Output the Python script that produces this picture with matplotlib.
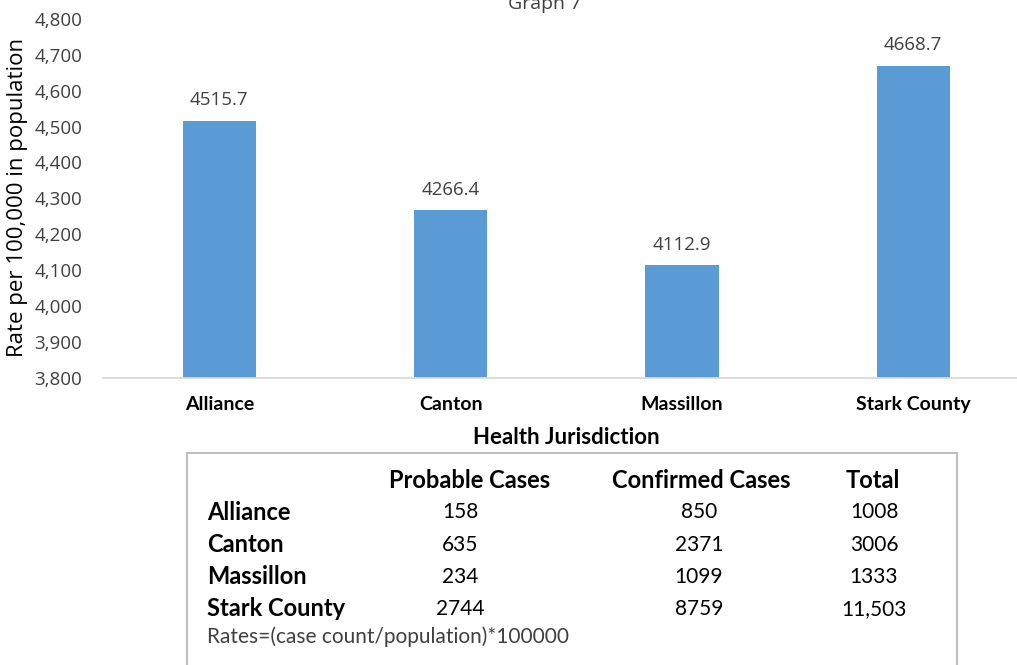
import matplotlib
matplotlib.use("Agg")
import matplotlib.pyplot as plt
from matplotlib.patches import Rectangle

# ---- data ----
jurisdictions = ["Alliance", "Canton", "Massillon", "Stark County"]
rates = [4515.7, 4266.4, 4112.9, 4668.7]
y_ticks = [3800, 3900, 4000, 4100, 4200, 4300, 4400, 4500, 4600, 4700, 4800]

table_header = ["Probable Cases", "Confirmed Cases", "Total"]
probable = ["158", "635", "234", "2744"]
confirmed = ["850", "2371", "1099", "8759"]
total = ["1008", "3006", "1333", "11,503"]
footnote = "Rates=(case count/population)*100000"

W, H = 1017, 665
fig = plt.figure(figsize=(W / 100, H / 100), dpi=100)
FONT = "Open Sans"
TXT = "#404040"

def fx(px):
    return px / W

def fy(py):
    return 1 - py / H

ax_w = 1017 - 103
ax_h = 377.7 - 19
ax = fig.add_axes([fx(103), fy(377.7), fx(ax_w), ax_h / H])
x = list(range(len(jurisdictions)))
ax.bar(x, rates, width=0.317, color="#5B9BD5", zorder=2)
ax.set_ylim(3800, 4800)
ax.set_xlim(-0.503, 3.449)
ax.set_yticks(y_ticks)
ax.set_yticklabels([f"{v:,}" for v in y_ticks], fontfamily=FONT, fontsize=13.5, color=TXT)
ax.set_xticks(x)
ax.set_xticklabels(jurisdictions, fontfamily="Lato", fontweight="bold", fontsize=14, color="black")
ax.tick_params(axis="both", length=0)
ax.tick_params(axis="x", pad=13)
ax.tick_params(axis="y", pad=15)
for s in ["top", "right", "left"]:
    ax.spines[s].set_visible(False)
ax.spines["bottom"].set_color("#D9D9D9")
ax.spines["bottom"].set_linewidth(1.3)

for xi, v in zip(x, rates):
    ax.annotate(f"{v:.1f}", (xi, v), xytext=(0, 15), textcoords="offset points",
                ha="center", va="center", fontfamily=FONT, fontsize=13.5, color=TXT)

ax.set_ylabel("Rate per 100,000 in population", fontfamily=FONT, fontsize=16, color="black")
ax.yaxis.set_label_coords((28 - 103) / ax_w, (377.7 - 197) / ax_h)

fig.text(fx(566), fy(438), "Health Jurisdiction", ha="center", va="center",
         fontfamily="Lato", fontweight="bold", fontsize=16, color="black")
fig.text(fx(545), fy(9), "Graph 7", ha="center", va="baseline",
         fontfamily=FONT, fontsize=14, color=TXT)

# table box
fig.patches.append(Rectangle((fx(187), fy(700)), fx(957 - 187), (700 - 453) / H,
                             transform=fig.transFigure, fill=False,
                             edgecolor="#BFBFBF", linewidth=1.5, figure=fig))

col_x = [460, 699, 874]
hdr_x = [470, 701, 873]
for cx, h in zip(hdr_x, table_header):
    fig.text(fx(cx), fy(480), h, ha="center", va="center", fontfamily="Lato",
             fontweight="bold", fontsize=17, color="black")
row_y = [512, 545, 577, 609]
for i, name in enumerate(jurisdictions):
    fig.text(fx(207), fy(row_y[i]), name, ha="left", va="center", fontfamily="Lato",
             fontweight="bold", fontsize=17, color="black")
    for cx, col in zip(col_x, [probable, confirmed, total]):
        fig.text(fx(cx), fy(row_y[i]), col[i], ha="center", va="center",
                 fontfamily="Lato", fontsize=15, color="black")
fig.text(fx(207), fy(637), footnote, ha="left", va="center", fontfamily="Lato",
         fontsize=15, color=TXT)

fig.savefig("out.png", dpi=100)
